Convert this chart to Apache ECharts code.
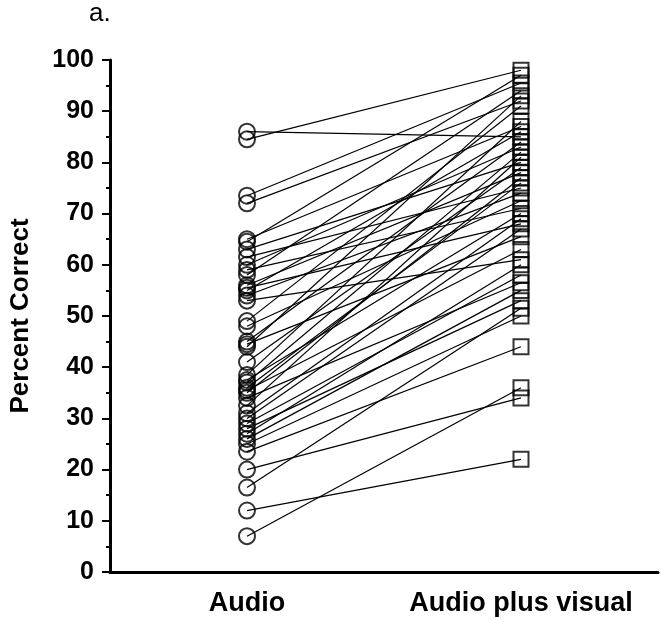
<!DOCTYPE html>
<html>
<head>
<meta charset="utf-8">
<script src="https://cdn.jsdelivr.net/npm/echarts@6/dist/echarts.min.js"></script>
<style>
  html, body { margin: 0; padding: 0; background: #fff; }
  #chart { width: 661px; height: 620px; }
</style>
</head>
<body>
<div id="chart"></div>
<script>
// conditions on the x axis
const conditions = ['Audio', 'Audio plus visual'];
const yTicks = [0, 10, 20, 30, 40, 50, 60, 70, 80, 90, 100];

// percent correct per subject, same order in both arrays
const audio = [86, 84.5, 73.5, 72, 65, 64.5, 63, 61.5, 60, 59, 58, 56, 55.5, 55, 54, 53,
    49, 48, 45, 44.5, 44, 41, 38.5, 37.5, 37, 36, 35.5, 35, 34, 32.5, 31, 30, 29, 28,
    27, 26, 25, 23.5, 20, 16.5, 12, 7];
const audioVisual = [85, 98, 95.5, 92, 87, 97, 80, 75, 83, 71, 94, 78, 68, 86, 74, 61,
    91, 72.5, 84, 65.5, 93, 79, 88, 70, 82, 76, 63, 77, 56.5, 81, 69, 67, 58, 53,
    60, 55, 50, 44, 34, 51.5, 22, 36];

const font = '"Liberation Sans", Arial, sans-serif';
const myChart = echarts.init(document.getElementById('chart'));

let series = [];

// one thin line per subject
audio.forEach(function (a, i) {
    series.push({
        type: 'line',
        data: [[conditions[0], a], [conditions[1], audioVisual[i]]],
        showSymbol: false,
        silent: true,
        lineStyle: { color: '#000', width: 1.2 },
        z: 2
    });
});

series.push({
    type: 'scatter',
    data: audio.map(function (v) { return [conditions[0], v]; }),
    symbol: 'circle',
    symbolSize: 16,
    itemStyle: { color: 'rgba(0,0,0,0)', borderColor: '#000', borderWidth: 2 },
    z: 3
});

series.push({
    type: 'scatter',
    data: audioVisual.map(function (v) { return [conditions[1], v]; }),
    symbol: 'rect',
    symbolSize: 15,
    itemStyle: { color: 'rgba(0,0,0,0)', borderColor: '#000', borderWidth: 2 },
    z: 3
});

const option = {
    animation: false,
    backgroundColor: '#fff',
    title: {
        text: 'a.',
        left: 84,
        top: -4,
        textStyle: { fontFamily: font, fontSize: 26, fontWeight: 'normal', color: '#000' }
    },
    grid: { left: 98, right: 3, top: 60, bottom: 48 },
    xAxis: {
        type: 'category',
        data: conditions,
        boundaryGap: true,
        axisLine: { lineStyle: { color: '#000', width: 3 } },
        axisTick: { alignWithLabel: true, interval: 0, length: 8, lineStyle: { color: '#000', width: 3 } },
        axisLabel: { interval: 0, color: '#000', fontFamily: font, fontSize: 27, fontWeight: 'bold', margin: 18 },
        splitLine: { show: false }
    },
    yAxis: {
        type: 'value',
        min: yTicks[0],
        max: yTicks[yTicks.length - 1],
        interval: 10,
        name: 'Percent Correct',
        nameLocation: 'middle',
        nameGap: 76,
        nameTextStyle: { color: '#000', fontFamily: font, fontSize: 26, fontWeight: 'bold' },
        axisLine: { show: true, lineStyle: { color: '#000', width: 3 } },
        axisTick: { show: true, length: 8, lineStyle: { color: '#000', width: 2 } },
        minorTick: { show: true, splitNumber: 2, length: 4, lineStyle: { color: '#000', width: 2 } },
        axisLabel: { color: '#000', fontFamily: font, fontSize: 25, fontWeight: 'bold', margin: 16 },
        splitLine: { show: false }
    },
    series: series
};

myChart.setOption(option);
</script>
</body>
</html>
